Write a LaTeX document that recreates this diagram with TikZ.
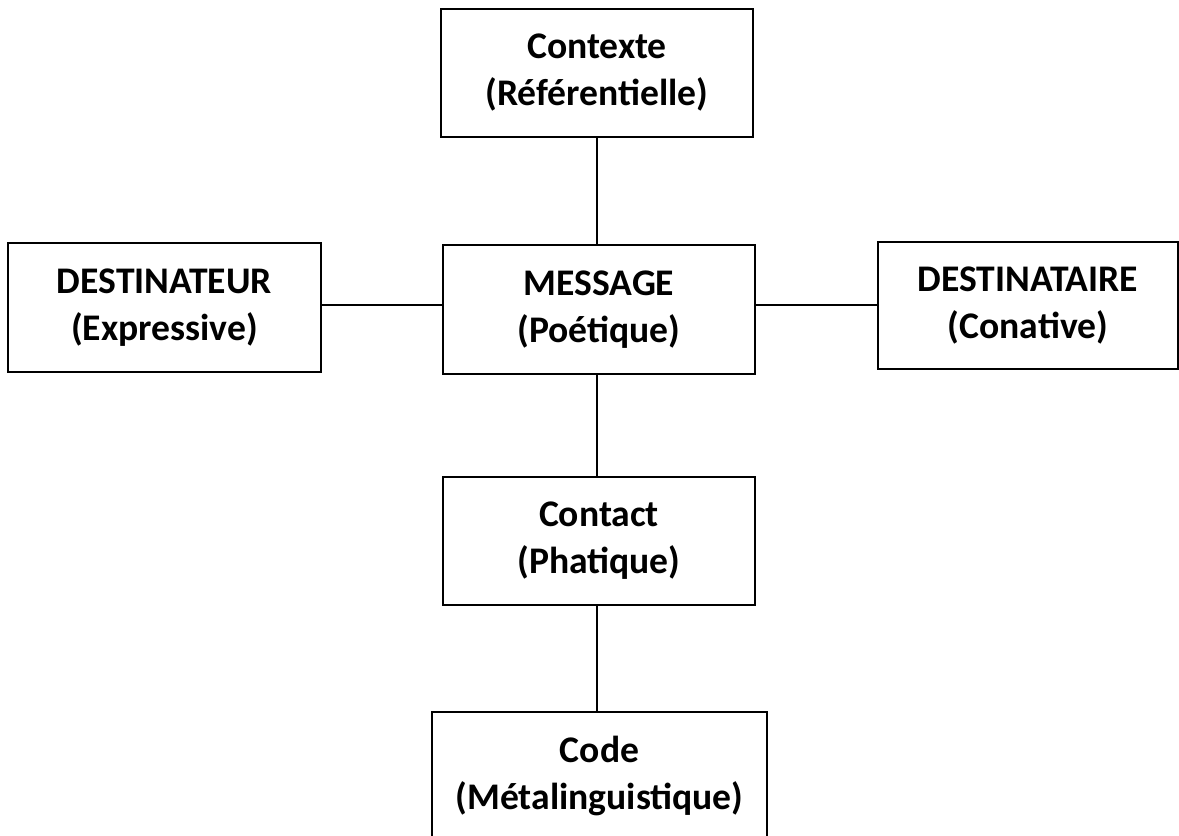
\documentclass[tikz,border=0pt]{standalone}
\usepackage{fontspec}
\setmainfont{Carlito}
\begin{document}
\begin{tikzpicture}[x=1pt,y=-1pt,
  box/.style={draw=black, line width=1.6pt, align=center, inner sep=0pt,
    font=\fontsize{37.6}{47}\selectfont\bfseries},
  conn/.style={draw=black, line width=1.6pt}]
\useasboundingbox (0,0) rectangle (1179,836);
\node[box, minimum width=312pt, minimum height=128pt] (ctx) at (597,73) {Contexte\\(Référentielle)};
\node[box, minimum width=313pt, minimum height=129pt] (dtr) at (164.5,307.5) {DESTINATEUR\\(Expressive)};
\node[box, minimum width=312pt, minimum height=129pt] (msg) at (599,309.5) {MESSAGE\\(Poétique)};
\node[box, minimum width=300pt, minimum height=127pt] (dta) at (1028,305.5) {DESTINATAIRE\\(Conative)};
\node[box, minimum width=312pt, minimum height=128pt] (cnt) at (599,541) {Contact\\(Phatique)};
\node[box, minimum width=335pt, minimum height=128pt] (code) at (599.5,776) {Code\\(Métalinguistique)};
\coordinate (vx) at (597,0);
\coordinate (hy) at (0,305);
\draw[conn] (ctx.south -| vx) -- (msg.north -| vx);
\draw[conn] (msg.south -| vx) -- (cnt.north -| vx);
\draw[conn] (cnt.south -| vx) -- (code.north -| vx);
\draw[conn] (dtr.east |- hy) -- (msg.west |- hy);
\draw[conn] (msg.east |- hy) -- (dta.west |- hy);
\end{tikzpicture}
\end{document}
